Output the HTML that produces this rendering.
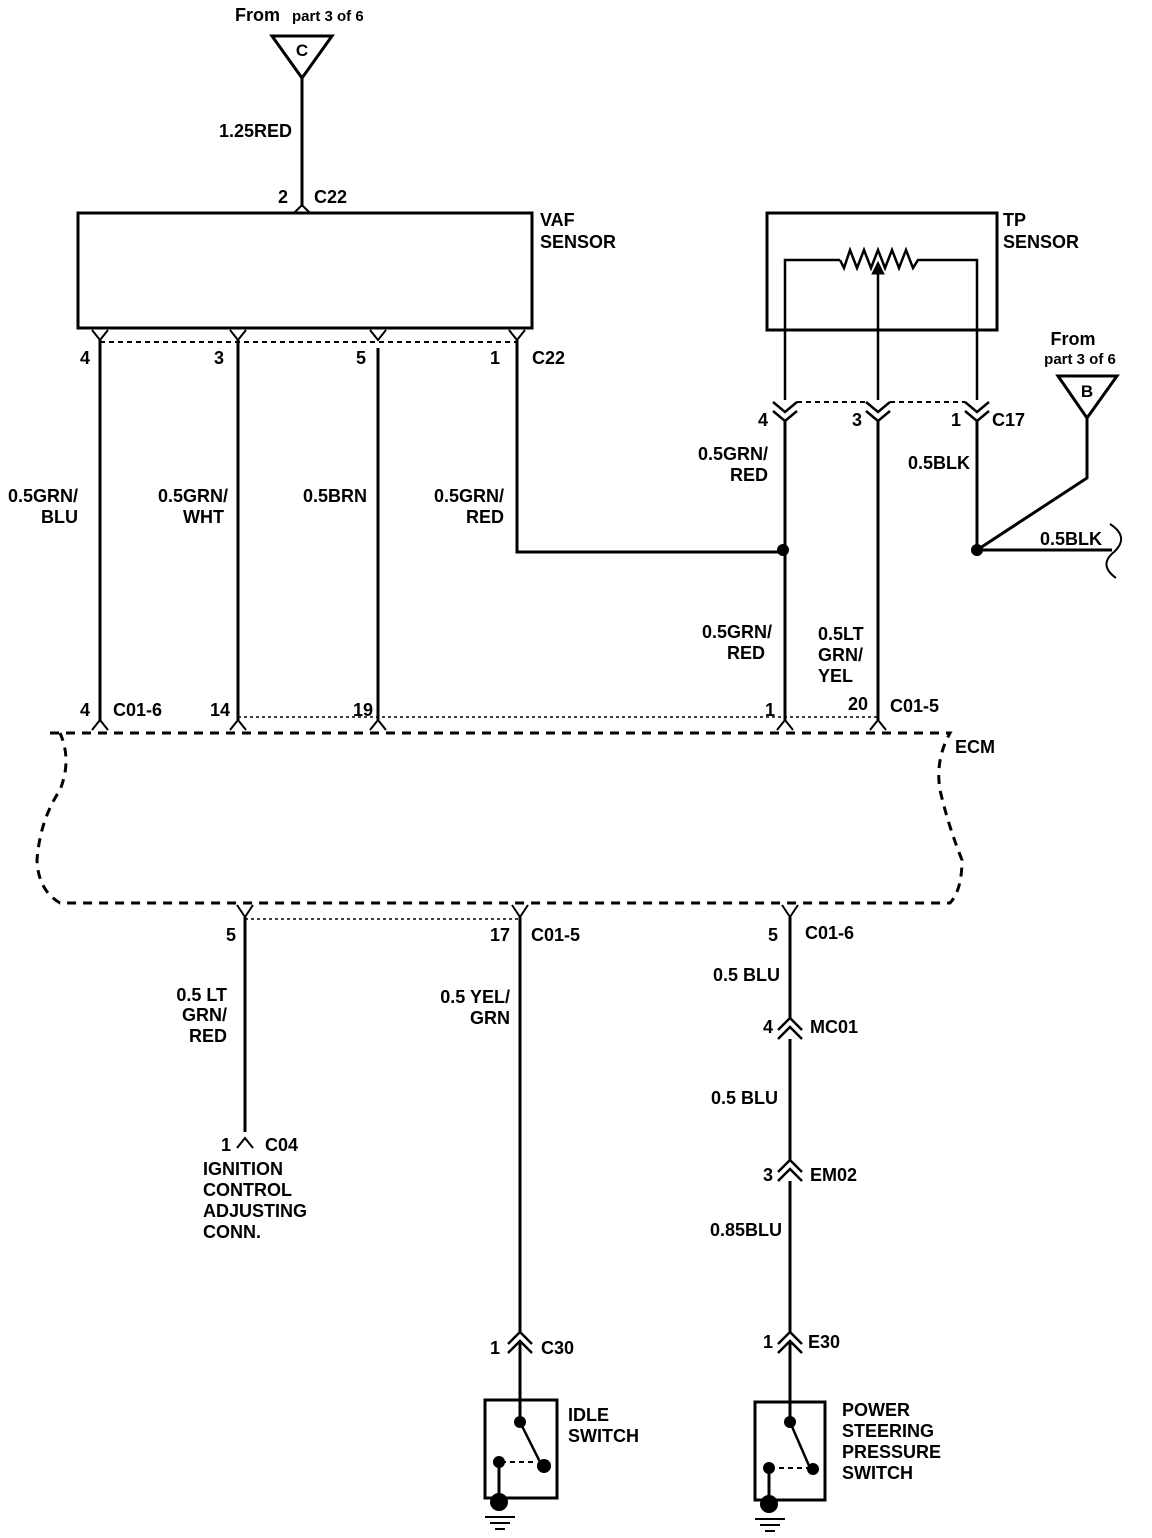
<!DOCTYPE html>
<html><head><meta charset="utf-8"><style>
html,body{margin:0;padding:0;background:#fff}
svg{display:block}
text{font-family:"Liberation Sans",Arial,sans-serif;font-weight:bold;font-size:18px;fill:#000}
</style></head><body>
<svg width="1152" height="1538" viewBox="0 0 1152 1538" xmlns="http://www.w3.org/2000/svg">
<g stroke="#000" fill="none" stroke-width="3">
<!-- top C triangle -->
<polygon points="272,36 332,36 302,78"/>
<line x1="302" y1="78" x2="302" y2="207"/>
<polyline points="294,213 302,205 310,213" stroke-width="2"/>
<!-- VAF box -->
<rect x="78" y="213" width="454" height="115"/>
<!-- VAF bottom pins -->
<g stroke-width="2">
<polyline points="92,330 100,340 108,330"/>
<polyline points="230,330 238,340 246,330"/>
<polyline points="370,330 378,340 386,330"/>
<polyline points="509,330 517,340 525,330"/>
</g>
<line x1="100" y1="342" x2="517" y2="342" stroke-width="2" stroke-dasharray="5,4"/>
<line x1="100" y1="340" x2="100" y2="720"/>
<line x1="238" y1="340" x2="238" y2="720"/>
<line x1="378" y1="348" x2="378" y2="720"/>
<polyline points="517,340 517,552 783,552"/>
<!-- TP sensor -->
<rect x="767" y="213" width="230" height="117"/>
<polyline points="785,400 785,260 840,260" stroke-width="2.5"/>
<polyline points="840,260 844,268 850,250 857,268 864,250 871,268 878,250 885,268 892,250 899,268 906,250 913,268 918,260 977,260 977,400" stroke-width="2.5"/>
<line x1="878" y1="400" x2="878" y2="270" stroke-width="2.5"/>
<polygon points="872,274 878,262 884,274" fill="#000" stroke-width="1"/>
<!-- C17 chevrons -->
<g stroke-width="2.5">
<polyline points="773,402 785,412 797,402"/><polyline points="773,411 785,421 797,411"/>
<polyline points="866,402 878,412 890,402"/><polyline points="866,411 878,421 890,411"/>
<polyline points="965,402 977,412 989,402"/><polyline points="965,411 977,421 989,411"/>
</g>
<line x1="797" y1="402" x2="866" y2="402" stroke-width="2" stroke-dasharray="5,4"/>
<line x1="890" y1="402" x2="965" y2="402" stroke-width="2" stroke-dasharray="5,4"/>
<line x1="785" y1="421" x2="785" y2="720"/>
<line x1="878" y1="421" x2="878" y2="720"/>
<line x1="977" y1="421" x2="977" y2="550"/>
<!-- B triangle -->
<polygon points="1058,376 1117,376 1087,418"/>
<polyline points="1087,418 1087,478 977,550 1112,550"/>
<path d="M1110,524 Q1130,537 1114,552 Q1098,565 1116,578" stroke-width="2"/>
<!-- ECM top pins -->
<g stroke-width="2">
<polyline points="92,730 100,720 108,730"/>
<polyline points="230,730 238,720 246,730"/>
<polyline points="370,730 378,720 386,730"/>
<polyline points="777,730 785,720 793,730"/>
<polyline points="870,730 878,720 886,730"/>
</g>
<line x1="238" y1="717" x2="878" y2="717" stroke-width="1.5" stroke-dasharray="3,3"/>
<!-- ECM outline -->
<path d="M50,733 L950,733 Q935,760 940,790 Q948,825 962,860 Q962,890 950,903 L60,903 Q38,890 37,860 Q40,820 60,790 Q72,760 60,733" stroke-dasharray="9,7"/>
<!-- ECM bottom pins -->
<g stroke-width="2">
<polyline points="237,905 245,917 253,905"/>
<polyline points="512,905 520,917 528,905"/>
<polyline points="782,905 790,917 798,905"/>
</g>
<line x1="245" y1="919" x2="520" y2="919" stroke-width="1.5" stroke-dasharray="3,3"/>
<line x1="245" y1="917" x2="245" y2="1132"/>
<polyline points="237,1148 245,1138 253,1148" stroke-width="2"/>
<line x1="520" y1="917" x2="520" y2="1332"/>
<line x1="790" y1="917" x2="790" y2="1018"/>
<g stroke-width="2.5">
<polyline points="778,1030 790,1018 802,1030"/><polyline points="778,1039 790,1027 802,1039"/>
<polyline points="778,1172 790,1160 802,1172"/><polyline points="778,1181 790,1169 802,1181"/>
<polyline points="508,1344 520,1332 532,1344"/><polyline points="508,1353 520,1341 532,1353"/>
<polyline points="778,1344 790,1332 802,1344"/><polyline points="778,1353 790,1341 802,1353"/>
</g>
<line x1="790" y1="1039" x2="790" y2="1160"/>
<line x1="790" y1="1181" x2="790" y2="1332"/>
<!-- idle switch -->
<line x1="520" y1="1343" x2="520" y2="1420"/>
<rect x="485" y="1400" width="72" height="98"/>
<line x1="520" y1="1422" x2="540" y2="1462" stroke-width="2.5"/>
<path d="M501,1462 L536,1462" stroke-width="2" stroke-dasharray="5,4"/>
<line x1="499" y1="1462" x2="499" y2="1500"/>
<line x1="485" y1="1517" x2="515" y2="1517" stroke-width="2"/>
<line x1="490" y1="1523" x2="510" y2="1523" stroke-width="2"/>
<line x1="495" y1="1529" x2="505" y2="1529" stroke-width="2"/>
<!-- ps switch -->
<line x1="790" y1="1343" x2="790" y2="1422"/>
<rect x="755" y="1402" width="70" height="98"/>
<line x1="790" y1="1422" x2="810" y2="1468" stroke-width="2.5"/>
<path d="M770,1468 L808,1468" stroke-width="2" stroke-dasharray="5,4"/>
<line x1="769" y1="1468" x2="769" y2="1502"/>
<line x1="755" y1="1519" x2="785" y2="1519" stroke-width="2"/>
<line x1="760" y1="1525" x2="780" y2="1525" stroke-width="2"/>
<line x1="765" y1="1531" x2="775" y2="1531" stroke-width="2"/>
</g>
<g fill="#000">
<circle cx="783" cy="550" r="6"/>
<circle cx="977" cy="550" r="6"/>
<circle cx="520" cy="1422" r="6"/><circle cx="544" cy="1466" r="7"/><circle cx="499" cy="1462" r="6"/><circle cx="499" cy="1502" r="9"/>
<circle cx="790" cy="1422" r="6"/><circle cx="813" cy="1469" r="6"/><circle cx="769" cy="1468" r="6"/><circle cx="769" cy="1504" r="9"/>
</g>
<!-- text -->
<text x="235" y="21">From</text><text x="292" y="21" style="font-size:15px">part 3 of 6</text>
<text x="302" y="56" text-anchor="middle" style="font-size:17px">C</text>
<text x="292" y="137" text-anchor="end">1.25RED</text>
<text x="288" y="203" text-anchor="end">2</text><text x="314" y="203">C22</text>
<text x="540" y="226">VAF</text><text x="540" y="248">SENSOR</text>
<text x="90" y="364" text-anchor="end">4</text>
<text x="224" y="364" text-anchor="end">3</text>
<text x="366" y="364" text-anchor="end">5</text>
<text x="500" y="364" text-anchor="end">1</text>
<text x="532" y="364">C22</text>
<text x="1003" y="226">TP</text><text x="1003" y="248">SENSOR</text>
<text x="1073" y="345" text-anchor="middle">From</text>
<text x="1080" y="364" text-anchor="middle" style="font-size:15px">part 3 of  6</text>
<text x="1087" y="397" text-anchor="middle" style="font-size:17px">B</text>
<text x="768" y="426" text-anchor="end">4</text>
<text x="862" y="426" text-anchor="end">3</text>
<text x="961" y="426" text-anchor="end">1</text>
<text x="992" y="426">C17</text>
<text x="768" y="460" text-anchor="end">0.5GRN/</text><text x="768" y="481" text-anchor="end">RED</text>
<text x="970" y="469" text-anchor="end">0.5BLK</text>
<text x="1040" y="545">0.5BLK</text>
<text x="78" y="502" text-anchor="end">0.5GRN/</text><text x="78" y="523" text-anchor="end">BLU</text>
<text x="228" y="502" text-anchor="end">0.5GRN/</text><text x="224" y="523" text-anchor="end">WHT</text>
<text x="367" y="502" text-anchor="end">0.5BRN</text>
<text x="504" y="502" text-anchor="end">0.5GRN/</text><text x="504" y="523" text-anchor="end">RED</text>
<text x="772" y="638" text-anchor="end">0.5GRN/</text><text x="765" y="659" text-anchor="end">RED</text>
<text x="818" y="640">0.5LT</text><text x="818" y="661">GRN/</text><text x="818" y="682">YEL</text>
<text x="90" y="716" text-anchor="end">4</text><text x="113" y="716">C01-6</text>
<text x="230" y="716" text-anchor="end">14</text>
<text x="373" y="716" text-anchor="end">19</text>
<text x="775" y="716" text-anchor="end">1</text>
<text x="868" y="710" text-anchor="end">20</text><text x="890" y="712">C01-5</text>
<text x="955" y="753">ECM</text>
<text x="236" y="941" text-anchor="end">5</text>
<text x="510" y="941" text-anchor="end">17</text><text x="531" y="941">C01-5</text>
<text x="778" y="941" text-anchor="end">5</text><text x="805" y="939">C01-6</text>
<text x="227" y="1001" text-anchor="end">0.5 LT</text><text x="227" y="1021" text-anchor="end">GRN/</text><text x="227" y="1042" text-anchor="end">RED</text>
<text x="510" y="1003" text-anchor="end">0.5 YEL/</text><text x="510" y="1024" text-anchor="end">GRN</text>
<text x="780" y="981" text-anchor="end">0.5 BLU</text>
<text x="773" y="1033" text-anchor="end">4</text><text x="810" y="1033">MC01</text>
<text x="778" y="1104" text-anchor="end">0.5 BLU</text>
<text x="773" y="1181" text-anchor="end">3</text><text x="810" y="1181">EM02</text>
<text x="782" y="1236" text-anchor="end">0.85BLU</text>
<text x="231" y="1151" text-anchor="end">1</text><text x="265" y="1151">C04</text>
<text x="203" y="1175">IGNITION</text><text x="203" y="1196">CONTROL</text><text x="203" y="1217">ADJUSTING</text><text x="203" y="1238">CONN.</text>
<text x="500" y="1354" text-anchor="end">1</text><text x="541" y="1354">C30</text>
<text x="773" y="1348" text-anchor="end">1</text><text x="808" y="1348">E30</text>
<text x="568" y="1421">IDLE</text><text x="568" y="1442">SWITCH</text>
<text x="842" y="1416">POWER</text><text x="842" y="1437">STEERING</text><text x="842" y="1458">PRESSURE</text><text x="842" y="1479">SWITCH</text>
</svg>
</body></html>
